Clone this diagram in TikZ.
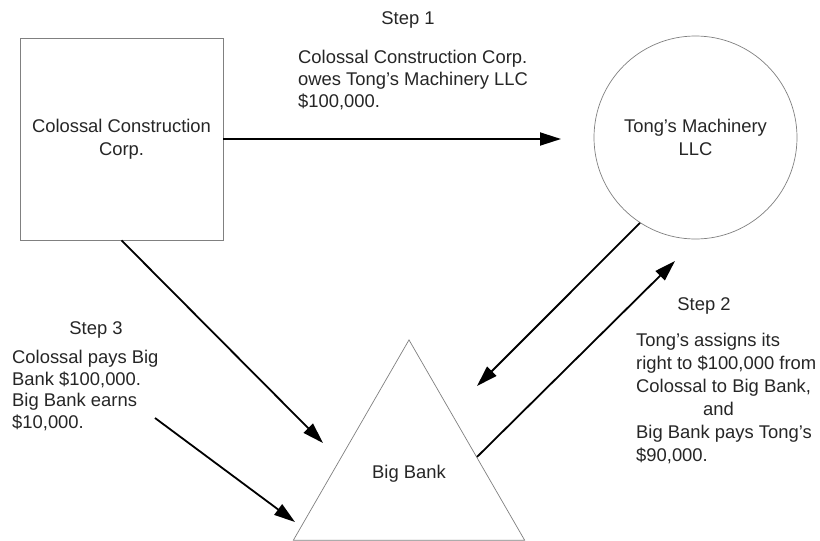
\documentclass[tikz,border=0pt]{standalone}
\usepackage{fontspec}
\setmainfont{Liberation Sans}
\usetikzlibrary{shapes.geometric,arrows.meta,calc}
\begin{document}
\begin{tikzpicture}[x=1pt,y=-1pt,
  every node/.style={font=\fontsize{18.4}{23}\selectfont, text=black!85},
  entity/.style={draw=black!50, line width=0.7pt, align=center, inner sep=0pt},
  flow/.style={line width=1.8pt, -{Triangle[length=21pt,width=13pt]}},
  caption/.style={align=left, anchor=north west, inner sep=0pt},
  heading/.style={inner sep=0pt}]
\useasboundingbox[fill=white] (0,0) rectangle (820,541);

% the three parties
\node[entity, minimum width=203pt, minimum height=202pt] (ccc) at (121.5,139) {Colossal Construction\\Corp.};
\node[entity, circle, minimum size=203pt] (tong) at (695.5,137.5) {Tong’s Machinery\\LLC};
\node[entity, regular polygon, regular polygon sides=3, minimum size=267pt] (bank) at (409,473.4) {Big Bank};

% arrow tips and free ends
\coordinate (t1) at (561,139);
\coordinate (t2) at (323,443);
\coordinate (s3) at (155,418);
\coordinate (t3) at (295,522);
\coordinate (t4) at (477,386);
\coordinate (t5) at (675,261);

% flows between the parties
\draw[flow] (ccc.east) -- (t1);
\draw[flow] (ccc.south) -- (t2);
\draw[flow] (s3) -- (t3);
\draw[flow] (tong.237) -- (t4);
\draw[flow] ($(bank.corner 1)!0.585!(bank.corner 3)$) -- (t5);

% step descriptions
\node[heading] (h1) at (408,20) {Step 1};
\node[caption, font=\fontsize{18.4}{22}\selectfont] (c1) at (298,50)
  {Colossal Construction Corp.\\owes Tong’s Machinery LLC\\\$100,000.};

\node[heading] (h3) at (96,330) {Step 3};
\node[caption, font=\fontsize{18.4}{21.5}\selectfont] (c3) at (12,350)
  {Colossal pays Big\\Bank \$100,000.\\Big Bank earns\\\$10,000.};

\node[heading] (h2) at (704,306) {Step 2};
\node[caption] (c2) at (636,333)
  {Tong’s assigns its\\right to \$100,000 from\\Colossal to Big Bank,\\\hspace*{67pt}and\\Big Bank pays Tong’s\\\$90,000.};
\end{tikzpicture}
\end{document}
